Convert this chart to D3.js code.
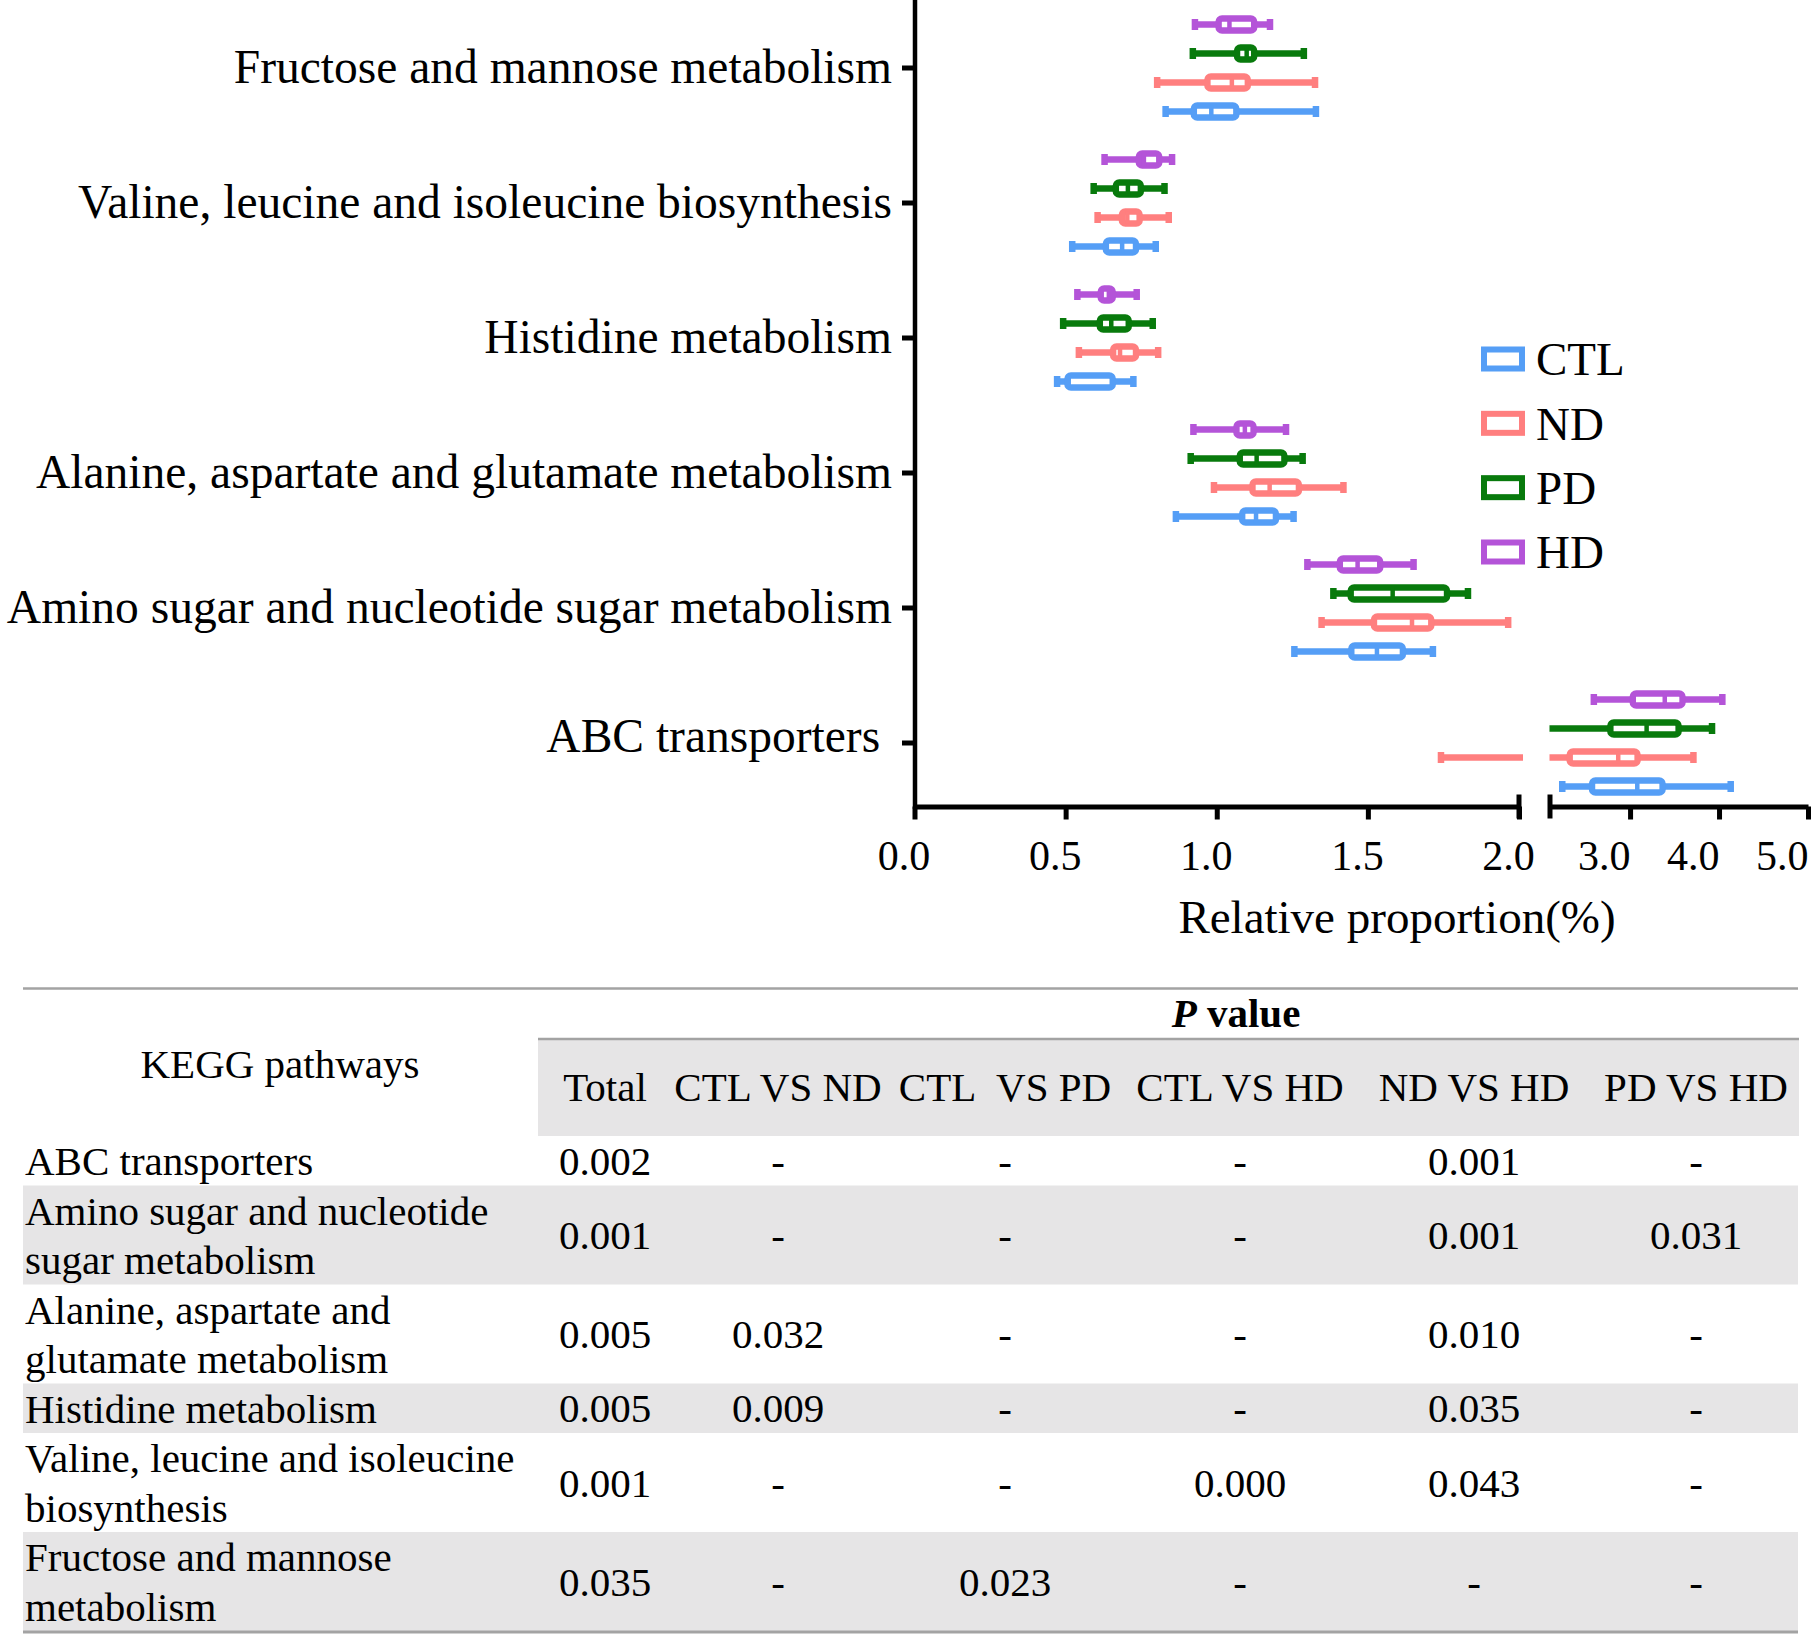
<!DOCTYPE html>
<html>
<head>
<meta charset="utf-8">
<script src="https://cdn.jsdelivr.net/npm/d3@7"></script>
<style>
  html, body { margin: 0; padding: 0; background: #ffffff; }
  svg { display: block; font-family: "Liberation Serif", "Times New Roman", serif; }
</style>
</head>
<body>
<div id="chart"></div>
<script>
// ---------------- DATA ----------------
const categories = [
  "Fructose and mannose metabolism",
  "Valine, leucine and isoleucine biosynthesis",
  "Histidine metabolism",
  "Alanine, aspartate and glutamate metabolism",
  "Amino sugar and nucleotide sugar metabolism",
  "ABC transporters\u00A0"
];
const groups = ["CTL", "ND", "PD", "HD"];
const groupColors = ["#559ef6", "#ff7f7f", "#087a0c", "#b454d8"];

// [min, q1, median, q3, max] per category (same order as categories)
const CTL = [[0.830,0.924,0.982,1.065,1.329],[0.521,0.633,0.687,0.733,0.799],[0.471,0.506,0.510,0.656,0.725],[0.864,1.084,1.130,1.196,1.255],[1.256,1.445,1.530,1.616,1.716],[2.235,2.572,3.081,3.366,4.134]];
const ND  = [[0.802,0.969,1.050,1.103,1.326],[0.605,0.686,0.704,0.745,0.842],[0.543,0.657,0.680,0.733,0.807],[0.990,1.118,1.175,1.272,1.420],[1.346,1.520,1.646,1.710,1.965],[1.741,2.321,2.867,3.085,3.715]];
const PD  = [[0.920,1.067,1.099,1.124,1.289],[0.592,0.666,0.706,0.749,0.828],[0.491,0.613,0.651,0.709,0.789],[0.913,1.076,1.132,1.224,1.285],[1.385,1.443,1.582,1.762,1.832],[2.050,2.778,3.186,3.546,3.924]];
const HD  = [[0.927,1.006,1.042,1.124,1.177],[0.628,0.742,0.759,0.810,0.853],[0.538,0.616,0.643,0.656,0.736],[0.922,1.065,1.093,1.122,1.230],[1.299,1.407,1.466,1.541,1.652],[2.590,3.030,3.390,3.590,4.040]];

const xTicksLow = [0.0, 0.5, 1.0, 1.5, 2.0];
const xTicksHigh = [3.0, 4.0, 5.0];
const xTitle = "Relative proportion(%)";

// table data
const tableRowLines = [
  ["ABC transporters"],
  ["Amino sugar and nucleotide", "sugar metabolism"],
  ["Alanine, aspartate and", "glutamate metabolism"],
  ["Histidine metabolism"],
  ["Valine, leucine and isoleucine", "biosynthesis"],
  ["Fructose and mannose", "metabolism"]
];
const tableColumns = ["Total", "CTL VS ND", "CTL\u00A0 VS PD", "CTL VS HD", "ND VS HD", "PD VS HD"];
const pTotal    = ["0.002", "0.001", "0.005", "0.005", "0.001", "0.035"];
const pCTLvsND  = ["-", "-", "0.032", "0.009", "-", "-"];
const pCTLvsPD  = ["-", "-", "-", "-", "-", "0.023"];
const pCTLvsHD  = ["-", "-", "-", "-", "0.000", "-"];
const pNDvsHD   = ["0.001", "0.001", "0.010", "0.035", "0.043", "-"];
const pPDvsHD   = ["-", "0.031", "-", "-", "-", "-"];

// ---------------- LAYOUT ----------------
const W = 1811, H = 1634;
const axisX = 915, baseY = 806.5;
const series = { CTL, ND, PD, HD };
const color = d3.scaleOrdinal().domain(groups).range(groupColors);

const svg = d3.select("#chart").append("svg")
  .attr("width", W).attr("height", H)
  .attr("viewBox", `0 0 ${W} ${H}`);
svg.append("rect").attr("width", W).attr("height", H).attr("fill", "#fff");

const yCat = d3.scaleBand().domain(categories).range([0.5, 810.5]);
const yGrp = d3.scaleBand().domain(groups.slice().reverse()).range([-58, 58]);
const xLow = d3.scaleLinear().domain([0, 2.0]).range([914.5, 1519]);
const xHigh = d3.scaleLinear().domain([2.1, 5.0]).range([1550, 1808]);

const defs = svg.append("defs");
defs.append("clipPath").attr("id", "clipLow").append("rect")
  .attr("x", 918).attr("y", 0).attr("width", 1523 - 918).attr("height", baseY - 3);
defs.append("clipPath").attr("id", "clipHigh").append("rect")
  .attr("x", 1549.5).attr("y", 0).attr("width", W - 1549.5).attr("height", baseY - 3);

const stats = categories.flatMap((c, i) => groups.map(g => {
  const [mn, q1, md, q3, mx] = series[g][i];
  return { cat: c, grp: g, mn, q1, md, q3, mx };
}));
const cy = d => yCat(d.cat) + yCat.bandwidth() / 2 + yGrp(d.grp) + yGrp.bandwidth() / 2;

function drawBoxes(clipId, xs) {
  const g = svg.append("g").attr("clip-path", `url(#${clipId})`);
  const b = g.selectAll("g.box").data(stats).join("g").attr("class", "box");
  b.append("line")
    .attr("x1", d => xs(d.mn)).attr("x2", d => xs(d.mx))
    .attr("y1", cy).attr("y2", cy)
    .attr("stroke", d => color(d.grp)).attr("stroke-width", 6.5);
  b.append("rect")
    .attr("x", d => xs(d.mn) - 3).attr("y", d => cy(d) - 5.5)
    .attr("width", 6.5).attr("height", 11).attr("fill", d => color(d.grp));
  b.append("rect")
    .attr("x", d => xs(d.mx) - 3.5).attr("y", d => cy(d) - 5.5)
    .attr("width", 6.5).attr("height", 11).attr("fill", d => color(d.grp));
  b.append("rect")
    .attr("x", d => xs(d.q1)).attr("y", d => cy(d) - 6)
    .attr("width", d => xs(d.q3) - xs(d.q1)).attr("height", 12)
    .attr("rx", 3.5)
    .attr("fill", "#fff").attr("stroke", d => color(d.grp))
    .attr("stroke-width", 6.5).attr("stroke-linejoin", "round");
  b.append("line")
    .attr("x1", d => xs(d.md)).attr("x2", d => xs(d.md))
    .attr("y1", d => cy(d) - 6).attr("y2", d => cy(d) + 6)
    .attr("stroke", d => color(d.grp)).attr("stroke-width", 4.5);
}
drawBoxes("clipLow", xLow);
drawBoxes("clipHigh", xHigh);

// ---------------- AXES ----------------
const yAxis = d3.axisLeft(yCat).tickSize(13).tickSizeOuter(0).tickPadding(10);
const gy = svg.append("g").attr("transform", `translate(${axisX},0)`).call(yAxis);
gy.select(".domain").remove();
gy.selectAll(".tick line").attr("stroke", "#000").attr("stroke-width", 5);
gy.selectAll(".tick text").attr("fill", "#000")
  .attr("dy", (d, i, n) => i === n.length - 1 ? "0.18em" : "0.32em")
  .style("font-size", "47.5px").style("font-family", "'Liberation Serif', serif")
  .style("white-space", "pre");
svg.append("line").attr("x1", axisX).attr("x2", axisX)
  .attr("y1", 0).attr("y2", baseY + 2.5)
  .attr("stroke", "#000").attr("stroke-width", 4.5);

function drawXAxis(xs, ticks, anchor, dx) {
  const ax = d3.axisBottom(xs).tickValues(ticks).tickFormat(d3.format(".1f"))
    .tickSize(13).tickSizeOuter(0).tickPadding(21);
  const g = svg.append("g").attr("transform", `translate(0,${baseY})`).call(ax);
  g.select(".domain").attr("stroke", "#000").attr("stroke-width", 5);
  g.selectAll(".tick line").attr("stroke", "#000").attr("stroke-width", 5);
  g.selectAll(".tick text").attr("fill", "#000").attr("dx", dx)
    .attr("text-anchor", anchor)
    .style("font-size", "42px").style("font-family", "'Liberation Serif', serif");
  return g;
}
drawXAxis(xLow, xTicksLow, "middle", -11);
drawXAxis(xHigh, xTicksHigh, "end", 0);
// break marks
[xLow.range()[1], xHigh.range()[0]].forEach(x => {
  svg.append("line").attr("x1", x).attr("x2", x)
    .attr("y1", baseY - 12).attr("y2", baseY + 12)
    .attr("stroke", "#000").attr("stroke-width", 5);
});
svg.append("text").attr("x", 1397).attr("y", 933)
  .attr("text-anchor", "middle").style("font-size", "47px").text(xTitle);

// ---------------- LEGEND ----------------
const yLeg = d3.scalePoint().domain(groups).range([359, 552]);
const leg = svg.selectAll("g.leg").data(groups).join("g").attr("class", "leg")
  .attr("transform", d => `translate(1484,${yLeg(d)})`);
leg.append("rect").attr("x", 0).attr("y", -9.5).attr("width", 38).attr("height", 19)
  .attr("fill", "#fff").attr("stroke", d => color(d)).attr("stroke-width", 6);
leg.append("text").attr("x", 52).attr("dy", "0.35em")
  .style("font-size", "47px").text(d => d);

// ---------------- TABLE ----------------
const lineH = 49.5;
const tableTop = 1136;
const grayFill = "#e6e5e6", lineGray = "#a3a3a3";
const colCenters = [605, 778, 1005, 1240, 1474, 1696];
const pCols = [pTotal, pCTLvsND, pCTLvsPD, pCTLvsHD, pNDvsHD, pPDvsHD];
const fs = "41px";

svg.append("line").attr("x1", 23).attr("x2", 1798).attr("y1", 988.5).attr("y2", 988.5)
  .attr("stroke", lineGray).attr("stroke-width", 2.5);
svg.append("rect").attr("x", 538).attr("y", 1039).attr("width", 1799 - 538).attr("height", tableTop - 1039)
  .attr("fill", grayFill);
svg.append("line").attr("x1", 538).attr("x2", 1799).attr("y1", 1039).attr("y2", 1039)
  .attr("stroke", lineGray).attr("stroke-width", 2.5);

const pv = svg.append("text").attr("x", 1236).attr("y", 1027)
  .attr("text-anchor", "middle").style("font-size", fs).style("font-weight", "bold");
pv.append("tspan").style("font-style", "italic").text("P");
pv.append("tspan").text(" value");

svg.append("text").attr("x", 280).attr("y", 1078).attr("text-anchor", "middle")
  .style("font-size", fs).text("KEGG pathways");
svg.selectAll("text.colhead").data(tableColumns).join("text").attr("class", "colhead")
  .attr("x", (d, i) => colCenters[i]).attr("y", 1101)
  .attr("text-anchor", "middle").style("font-size", fs).text(d => d);

let cum = 0;
const rowTops = tableRowLines.map(l => { const t = tableTop + cum * lineH; cum += l.length; return t; });
tableRowLines.forEach((lines, r) => {
  const top = rowTops[r], h = lines.length * lineH;
  if (r % 2 === 1) {
    svg.append("rect").attr("x", 23).attr("y", top).attr("width", 1798 - 23).attr("height", h)
      .attr("fill", grayFill);
  }
  lines.forEach((t, k) => {
    svg.append("text").attr("x", 25).attr("y", top + 39 + k * lineH)
      .style("font-size", fs).text(t);
  });
  pCols.forEach((col, c) => {
    svg.append("text").attr("x", colCenters[c]).attr("y", top + h / 2 + 14)
      .attr("text-anchor", "middle").style("font-size", fs).text(col[r]);
  });
});
svg.append("line").attr("x1", 23).attr("x2", 1798)
  .attr("y1", tableTop + cum * lineH + 1).attr("y2", tableTop + cum * lineH + 1)
  .attr("stroke", lineGray).attr("stroke-width", 3);
</script>
</body>
</html>
